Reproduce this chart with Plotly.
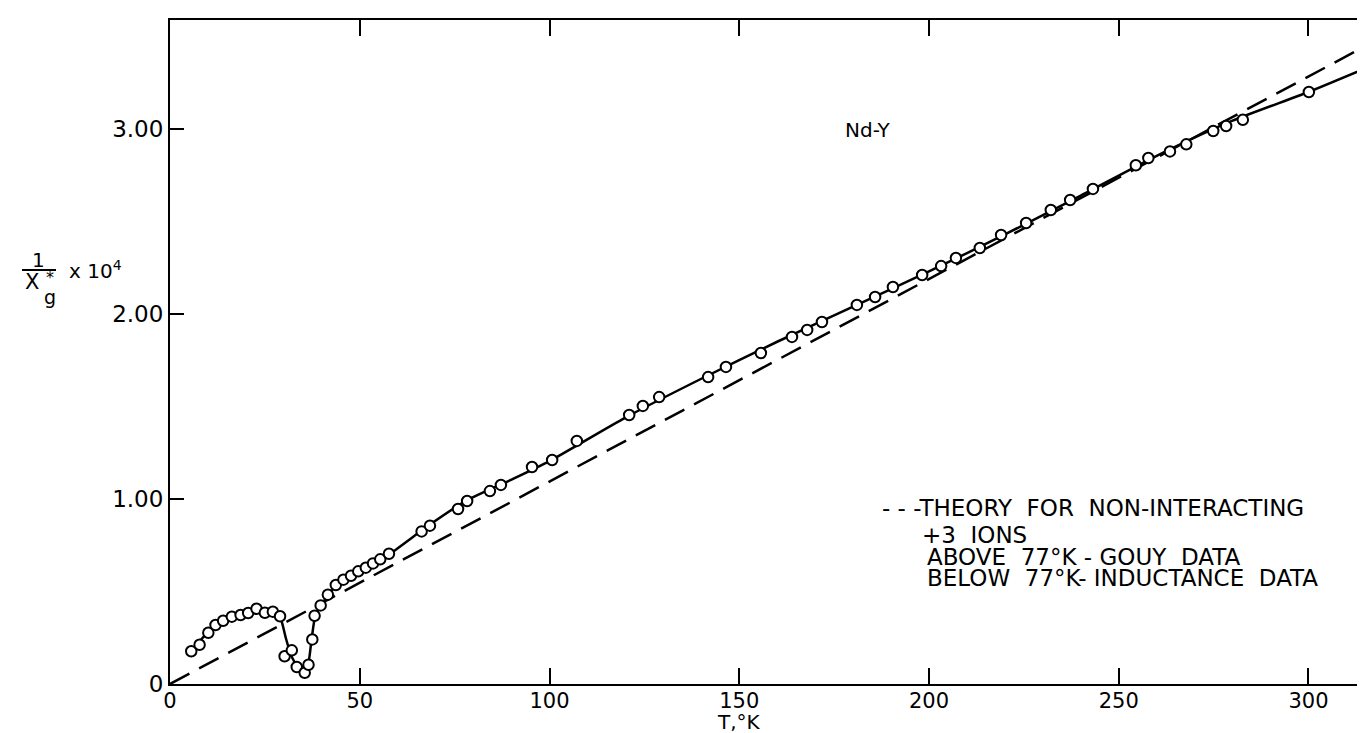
import plotly.graph_objects as go

# ---------------- data ----------------
T_obs = [5.6, 7.8, 10.1, 12.0, 14.0, 16.3, 18.6, 20.6, 22.8, 25.0, 27.1, 29.0,
         30.2, 32.1, 33.4, 35.5, 36.5, 37.5, 38.1, 39.7, 41.6, 43.7, 45.7, 47.7,
         49.6, 51.6, 53.5, 55.4, 57.7, 66.3, 68.5, 75.9, 78.3, 84.3, 87.2, 95.4,
         100.7, 107.2, 121.0, 124.6, 128.9, 141.8, 146.5, 155.7, 163.9, 167.9,
         171.8, 181.0, 185.8, 190.5, 198.2, 203.2, 207.1, 213.4, 219.0, 225.6,
         232.1, 237.2, 243.2, 254.5, 257.8, 263.5, 267.8, 274.9, 278.3, 282.7,
         300.1]
inv_chi_obs = [0.177, 0.212, 0.277, 0.319, 0.342, 0.364, 0.373, 0.384, 0.407,
               0.385, 0.391, 0.366, 0.150, 0.182, 0.092, 0.061, 0.104, 0.241,
               0.369, 0.425, 0.483, 0.535, 0.564, 0.585, 0.609, 0.629, 0.652,
               0.674, 0.704, 0.825, 0.856, 0.946, 0.989, 1.043, 1.076, 1.173,
               1.211, 1.314, 1.454, 1.503, 1.551, 1.659, 1.714, 1.789, 1.876,
               1.914, 1.957, 2.049, 2.092, 2.146, 2.211, 2.259, 2.303, 2.357,
               2.427, 2.492, 2.562, 2.616, 2.676, 2.804, 2.843, 2.879, 2.917,
               2.989, 3.016, 3.050, 3.200]

# smooth experimental curve drawn through the points
T_curve = [5.6, 10.0, 14.0, 20.0, 23.0, 27.0, 29.0, 30.5, 32.0, 33.5, 35.0,
           36.3, 37.3, 38.3, 40.0, 42.0, 45.0, 50.0, 58.0, 68.0, 78.0, 90.0,
           100.0, 120.0, 140.0, 160.0, 180.0, 200.0, 220.0, 240.0, 260.0,
           280.0, 300.0, 317.0]
inv_chi_curve = [0.177, 0.280, 0.345, 0.385, 0.400, 0.390, 0.362, 0.250,
                 0.150, 0.100, 0.075, 0.100, 0.240, 0.370, 0.430, 0.490,
                 0.555, 0.610, 0.705, 0.855, 0.990, 1.105, 1.205, 1.440,
                 1.650, 1.850, 2.040, 2.230, 2.430, 2.640, 2.855, 3.045,
                 3.200, 3.345]

# theory for non-interacting +3 ions
T_theory = [0.0, 317.0]
inv_chi_theory = [0.0, 3.47]

x_ticks = [0, 50, 100, 150, 200, 250, 300]
x_tick_text = ["0", "50", "100", "150", "200", "250", "300"]
y_ticks = [0, 1, 2, 3]
y_tick_text = ["0", "1.00", "2.00", "3.00"]

NB = "\u00a0"
legend_lines = ["-" + NB + "-" + NB + "-THEORY" + NB * 2 + "FOR" + NB * 2 + "NON-INTERACTING",
                "+3" + NB * 2 + "IONS",
                "ABOVE" + NB * 2 + "77°K" + NB + "-" + NB + "GOUY" + NB * 2 + "DATA",
                "BELOW" + NB * 2 + "77°K-" + NB + "INDUCTANCE" + NB * 2 + "DATA"]

# ---------------- figure ----------------
W, H = 1365, 733
L, R, T, B = 162, 0, 12, 57
PW, PH = W - L - R, H - T - B


def px(x):
    return (x - L) / PW


def py(y):
    return (H - B - y) / PH


FONT = "DejaVu Sans"

fig = go.Figure()
fig.add_trace(go.Scatter(x=T_theory, y=inv_chi_theory, mode="lines",
                         line=dict(color="black", width=2.5, dash="22px,11px"),
                         hoverinfo="skip", showlegend=False))
fig.add_trace(go.Scatter(x=T_curve, y=inv_chi_curve, mode="lines",
                         line=dict(color="black", width=2.5, shape="spline",
                                   smoothing=0.6),
                         hoverinfo="skip", showlegend=False))
fig.add_trace(go.Scatter(x=T_obs, y=inv_chi_obs, mode="markers",
                         marker=dict(symbol="circle", size=10.5, color="white",
                                     line=dict(color="black", width=2)),
                         showlegend=False))
# invisible trace for the right-hand tick axis
fig.add_trace(go.Scatter(x=[0], y=[0], yaxis="y2", mode="markers",
                         marker=dict(opacity=0), hoverinfo="skip",
                         showlegend=False))

fig.update_layout(
    width=W, height=H, autosize=False,
    margin=dict(l=L, r=R, t=T, b=B, pad=0),
    paper_bgcolor="white", plot_bgcolor="white",
    font=dict(family=FONT, color="black", size=22),
    xaxis=dict(range=[0, 317.0], tickvals=x_ticks, ticktext=x_tick_text,
               ticks="inside", ticklen=16, tickwidth=2, tickcolor="black",
               showline=True, linewidth=2, linecolor="black", mirror="ticks",
               showgrid=False, zeroline=False, ticklabelstandoff=-3,
               tickfont=dict(family=FONT, size=21)),
    yaxis=dict(range=[0, PH / 185.0], tickvals=y_ticks, ticktext=y_tick_text,
               ticks="inside", ticklen=14, tickwidth=2, tickcolor="black",
               showline=True, linewidth=2, linecolor="black", mirror=False,
               showgrid=False, zeroline=False,
               tickfont=dict(family=FONT, size=23)),
    yaxis2=dict(range=[0, PH / 185.0], overlaying="y", side="right",
                tickvals=[1, 2, 3], ticks="inside", ticklen=14, tickwidth=2,
                tickcolor="black", showticklabels=False, showline=False,
                showgrid=False, zeroline=False),
)

ann = []
# x axis title
ann.append(dict(x=px(731), y=py(714), xref="paper", yref="paper",
                text="T,°K", showarrow=False, xanchor="center",
                yanchor="middle", borderpad=0, font=dict(size=20)))
# label Nd-Y
ann.append(dict(x=px(860), y=py(122), xref="paper", yref="paper",
                text="Nd-Y", showarrow=False, xanchor="center",
                yanchor="middle", font=dict(size=20)))
# y axis title pieces
ann.append(dict(x=px(30), y=py(252), xref="paper", yref="paper", text="1",
                showarrow=False, xanchor="center", yanchor="middle",
                font=dict(size=20)))
ann.append(dict(x=px(24), y=py(274), xref="paper", yref="paper", text="X",
                showarrow=False, xanchor="center", yanchor="middle",
                font=dict(size=21)))
ann.append(dict(x=px(42), y=py(289), xref="paper", yref="paper", text="g",
                showarrow=False, xanchor="center", yanchor="middle",
                font=dict(size=19)))
ann.append(dict(x=px(42), y=py(270), xref="paper", yref="paper", text="*",
                showarrow=False, xanchor="center", yanchor="middle",
                font=dict(size=16)))
ann.append(dict(x=px(59), y=py(262), xref="paper", yref="paper",
                text="x 10<sup>4</sup>", showarrow=False, xanchor="left",
                yanchor="middle", font=dict(size=20)))
# legend text
leg_pos = [(873, 500), (913, 527), (918, 549), (918, 570)]
for txt, (lx, ly) in zip(legend_lines, leg_pos):
    ann.append(dict(x=px(lx), y=py(ly), xref="paper", yref="paper",
                    text=txt, showarrow=False, xanchor="left",
                    yanchor="middle", borderpad=0, font=dict(size=23)))
fig.update_layout(annotations=ann)

# fraction bar of the y label
fig.add_shape(type="line", xref="paper", yref="paper",
              x0=px(14), x1=px(48), y0=py(262), y1=py(262),
              line=dict(color="black", width=2))

fig.write_html("out.html")
